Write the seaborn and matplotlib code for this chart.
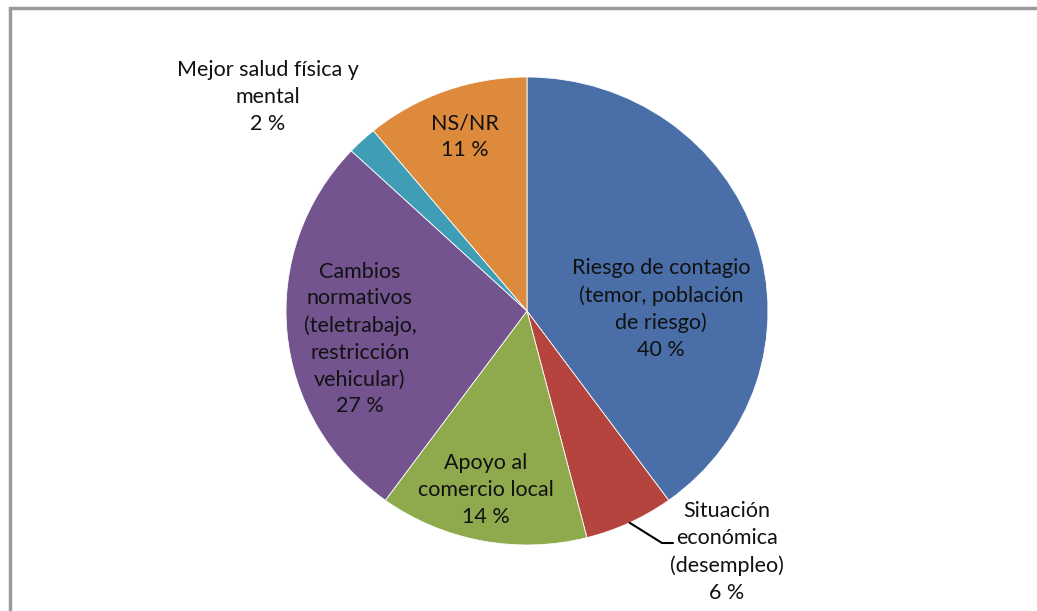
import numpy as np
import matplotlib
matplotlib.use("Agg")
import matplotlib.pyplot as plt
from matplotlib.patches import Rectangle
import seaborn as sns

# ---- data ----
categories = [
    "Riesgo de contagio\n(temor, población\nde riesgo)",
    "Situación\neconómica\n(desempleo)",
    "Apoyo al\ncomercio local",
    "Cambios\nnormativos\n(teletrabajo,\nrestricción\nvehicular)",
    "Mejor salud física y\nmental",
    "NS/NR",
]
values = [40, 6, 14, 27, 2, 11]
colors = ["#4a6ea8", "#b5443f", "#8eaa4c", "#74548f", "#3f9db5", "#de8a3c"]

# ---- style ----
sns.set_theme(style="white")
plt.rcParams["font.family"] = ["Lato", "DejaVu Sans"]

W, H = 1037, 611
fig = plt.figure(figsize=(W / 100, H / 100), dpi=100)
ax = fig.add_axes([0, 0, 1, 1])

# pie geometry in pixels (center & radii) -> axes limits
cx, cy, rx, ry = 527, 311, 241, 234

wedges, _ = ax.pie(values, colors=colors, startangle=90, counterclock=False,
                   radius=1.0, center=(0, 0),
                   wedgeprops=dict(edgecolor="white", linewidth=0.6))
ax.set_aspect("auto")
ax.set_xlim(-cx / rx, (W - cx) / rx)
ax.set_ylim(-(H - cy) / ry, cy / ry)
ax.axis("off")

def px(x, y):
    return ((x - cx) / rx, (cy - y) / ry)

# label centers (pixels), layout only
label_pos = [(661, 309), (727, 552), (486, 490), (360, 339), (268, 97), (465, 137)]
for cat, val, (lx, ly) in zip(categories, values, label_pos):
    x, y = px(lx, ly)
    ax.text(x, y, f"{cat}\n{val} %", ha="center", va="center",
            fontsize=15.5, color="#111111", linespacing=1.42)

# leader line for the small red slice
w = wedges[1]
mid = np.deg2rad((w.theta1 + w.theta2) / 2)
x0, y0 = np.cos(mid), np.sin(mid)
x1, y1 = px(662, 543)
x2, y2 = px(673, 543)
ax.plot([x0, x1, x2], [y0, y1, y2], color="black", lw=1.5)

# outer frame (partially visible)
fig.patches.append(Rectangle((10 / W, -0.5), 2.0, (H - 8) / H + 0.5,
                             transform=fig.transFigure, fill=False,
                             edgecolor="#9a9a9a", linewidth=2.5))

fig.savefig("out.png", dpi=100, facecolor="white")
